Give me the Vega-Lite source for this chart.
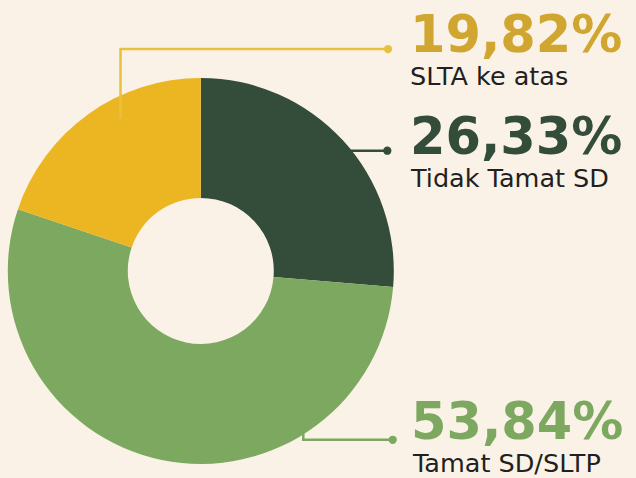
{
  "$schema": "https://vega.github.io/schema/vega-lite/v6.json",
  "width": 636,
  "height": 478,
  "padding": 0,
  "autosize": {"type": "fit", "contains": "padding"},
  "background": "#FAF2E6",
  "config": {"view": {"stroke": null}},
  "data": {
    "values": [
      {"cat": "Tidak Tamat SD", "pct": 26.33, "label": "26,33%", "ord": 1},
      {"cat": "Tamat SD/SLTP", "pct": 53.84, "label": "53,84%", "ord": 2},
      {"cat": "SLTA ke atas", "pct": 19.82, "label": "19,82%", "ord": 3}
    ]
  },
  "layer": [
    {
      "mark": {"type": "arc", "outerRadius": 193, "innerRadius": 73},
      "encoding": {
        "theta": {"field": "pct", "type": "quantitative", "stack": true},
        "order": {"field": "ord", "type": "quantitative"},
        "color": {
          "field": "cat",
          "type": "nominal",
          "scale": {"domain": ["Tidak Tamat SD", "Tamat SD/SLTP", "SLTA ke atas"], "range": ["#344D3A", "#7CA860", "#ECB622"]},
          "legend": null
        },
        "x": {"datum": 200.8, "type": "quantitative", "scale": {"domain": [0, 636], "nice": false, "zero": false}, "axis": null},
        "y": {"datum": 273.2, "type": "quantitative", "scale": {"domain": [0, 478], "nice": false, "zero": false, "reverse": true}, "axis": null}
      }
    },
    {
      "transform": [{"filter": "datum.cat === 'SLTA ke atas'"}],
      "layer": [
        {"mark": {"type": "rule", "strokeWidth": 2.5, "color": "#E7C13E"},
         "encoding": {"x": {"datum": 120.5, "type": "quantitative"}, "y": {"datum": 120, "type": "quantitative"}, "y2": {"datum": 49.5}}},
        {"mark": {"type": "rule", "strokeWidth": 2.5, "color": "#E7C13E"},
         "encoding": {"x": {"datum": 119.3, "type": "quantitative"}, "x2": {"datum": 388}, "y": {"datum": 49.5, "type": "quantitative"}}},
        {"mark": {"type": "point", "filled": true, "opacity": 1, "size": 68, "color": "#E7C13E"},
         "encoding": {"x": {"datum": 388, "type": "quantitative"}, "y": {"datum": 49.5, "type": "quantitative"}}},
        {"mark": {"type": "text", "align": "left", "baseline": "alphabetic", "font": "DejaVu Sans", "fontWeight": "bold", "fontSize": 51, "color": "#D0A630"},
         "encoding": {"x": {"datum": 410, "type": "quantitative"}, "y": {"datum": 52.5, "type": "quantitative"}, "text": {"field": "label"}}},
        {"mark": {"type": "text", "align": "left", "baseline": "alphabetic", "font": "DejaVu Sans", "fontSize": 25.5, "color": "#231F20"},
         "encoding": {"x": {"datum": 410, "type": "quantitative"}, "y": {"datum": 86.2, "type": "quantitative"}, "text": {"field": "cat"}}}
      ]
    },
    {
      "transform": [{"filter": "datum.cat === 'Tidak Tamat SD'"}],
      "layer": [
        {"mark": {"type": "rule", "strokeWidth": 2.5, "color": "#344D3A"},
         "encoding": {"x": {"datum": 345, "type": "quantitative"}, "x2": {"datum": 387}, "y": {"datum": 152, "type": "quantitative"}}},
        {"mark": {"type": "point", "filled": true, "opacity": 1, "size": 68, "color": "#344D3A"},
         "encoding": {"x": {"datum": 387.3, "type": "quantitative"}, "y": {"datum": 152, "type": "quantitative"}}},
        {"mark": {"type": "text", "align": "left", "baseline": "alphabetic", "font": "DejaVu Sans", "fontWeight": "bold", "fontSize": 51, "color": "#344D3A"},
         "encoding": {"x": {"datum": 410, "type": "quantitative"}, "y": {"datum": 155, "type": "quantitative"}, "text": {"field": "label"}}},
        {"mark": {"type": "text", "align": "left", "baseline": "alphabetic", "font": "DejaVu Sans", "fontSize": 25.5, "color": "#231F20"},
         "encoding": {"x": {"datum": 411, "type": "quantitative"}, "y": {"datum": 188.7, "type": "quantitative"}, "text": {"field": "cat"}}}
      ]
    },
    {
      "transform": [{"filter": "datum.cat === 'Tamat SD/SLTP'"}],
      "layer": [
        {"mark": {"type": "rule", "strokeWidth": 2.5, "color": "#7CA860"},
         "encoding": {"x": {"datum": 303.3, "type": "quantitative"}, "y": {"datum": 425, "type": "quantitative"}, "y2": {"datum": 443.5}}},
        {"mark": {"type": "rule", "strokeWidth": 2.5, "color": "#7CA860"},
         "encoding": {"x": {"datum": 302, "type": "quantitative"}, "x2": {"datum": 392.7}, "y": {"datum": 443.5, "type": "quantitative"}}},
        {"mark": {"type": "point", "filled": true, "opacity": 1, "size": 68, "color": "#7CA860"},
         "encoding": {"x": {"datum": 392.7, "type": "quantitative"}, "y": {"datum": 443.5, "type": "quantitative"}}},
        {"mark": {"type": "text", "align": "left", "baseline": "alphabetic", "font": "DejaVu Sans", "fontWeight": "bold", "fontSize": 51, "color": "#7CA860"},
         "encoding": {"x": {"datum": 411, "type": "quantitative"}, "y": {"datum": 442.5, "type": "quantitative"}, "text": {"field": "label"}}},
        {"mark": {"type": "text", "align": "left", "baseline": "alphabetic", "font": "DejaVu Sans", "fontSize": 25.5, "color": "#231F20"},
         "encoding": {"x": {"datum": 413, "type": "quantitative"}, "y": {"datum": 476, "type": "quantitative"}, "text": {"field": "cat"}}}
      ]
    }
  ]
}
